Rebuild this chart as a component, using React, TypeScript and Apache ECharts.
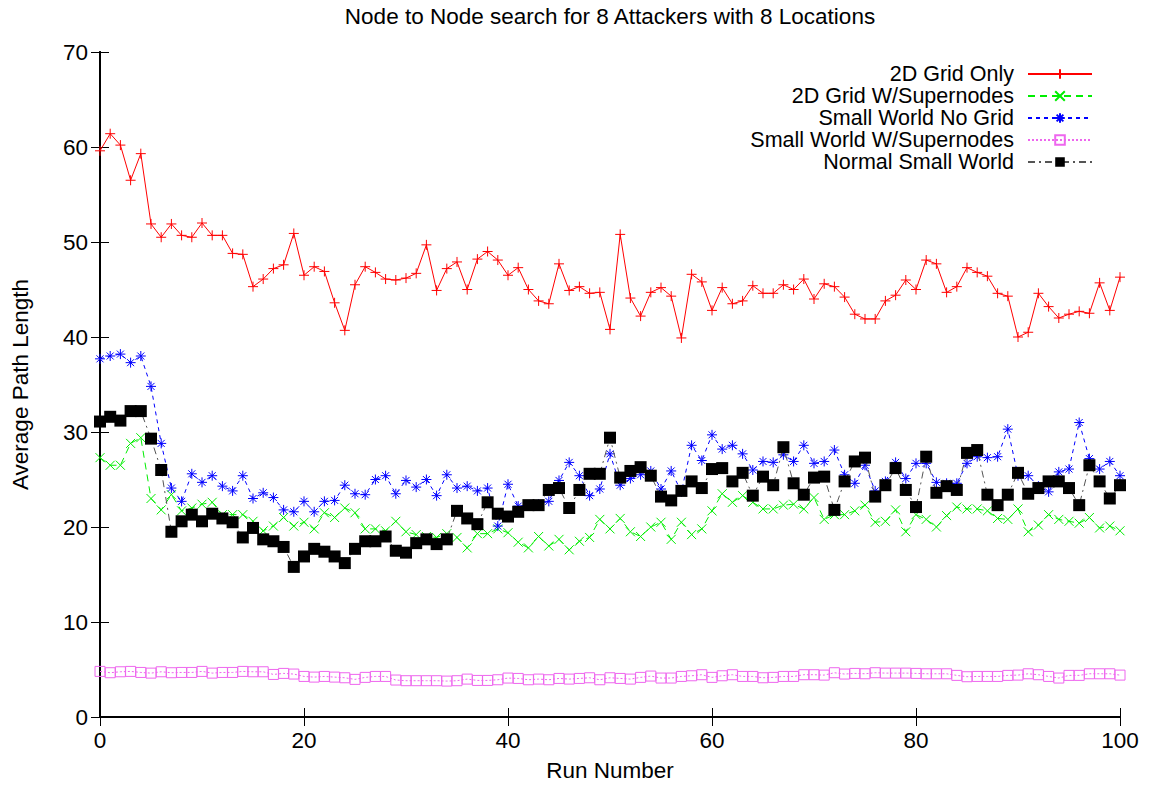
import React, { useEffect, useRef } from "react";
import * as echarts from "echarts";

// Average path length per run, one array per network configuration (runs 0..100)
const gridOnly = [
  59.6, 61.4, 60.2, 56.5, 59.3, 51.9, 50.5, 51.9, 50.7, 50.5, 52.0, 50.7, 50.7, 48.8, 48.7, 45.3, 46.1, 47.2, 47.6, 50.9,
  46.5, 47.4, 46.9, 43.6, 40.7, 45.5, 47.4, 46.8, 46.1, 46.0, 46.2, 46.7, 49.7, 44.9, 47.2, 47.9, 45.0, 48.2, 49.0, 48.1,
  46.5, 47.3, 45.0, 43.8, 43.5, 47.7, 44.9, 45.3, 44.6, 44.7, 40.8, 50.8, 44.1, 42.2, 44.7, 45.2, 44.3, 39.9, 46.6, 45.8,
  42.8, 45.2, 43.5, 43.8, 45.4, 44.6, 44.6, 45.5, 45.0, 46.1, 44.0, 45.6, 45.3, 44.2, 42.4, 41.9, 41.9, 43.8, 44.4, 46.0,
  45.0, 48.1, 47.7, 44.7, 45.3, 47.3, 46.8, 46.4, 44.6, 44.3, 40.0, 40.5, 44.6, 43.2, 42.0, 42.4, 42.7, 42.5, 45.7, 42.8,
  46.3,
];

const gridSupernodes = [
  27.3, 26.5, 26.5, 28.8, 29.4, 23.0, 21.8, 23.4, 21.7, 22.0, 22.4, 22.6, 21.3, 21.3, 21.3, 20.6, 19.6, 20.1, 21.0, 20.1,
  20.5, 19.8, 21.5, 21.0, 22.0, 21.5, 19.8, 19.8, 19.6, 20.6, 19.5, 19.2, 19.0, 18.9, 19.3, 18.9, 17.8, 19.3, 19.3, 19.8,
  19.4, 18.4, 17.8, 19.0, 18.0, 18.7, 17.6, 18.5, 18.9, 20.8, 19.8, 20.9, 19.5, 19.0, 20.0, 20.5, 18.7, 20.5, 19.2, 19.8,
  21.7, 23.5, 22.6, 23.3, 22.6, 21.9, 21.9, 22.3, 22.4, 21.9, 23.1, 20.8, 21.3, 21.3, 21.7, 22.3, 20.5, 20.6, 21.8, 19.5,
  21.3, 20.8, 20.0, 21.2, 22.1, 21.9, 21.9, 21.7, 20.9, 20.8, 21.9, 19.5, 20.2, 21.3, 20.8, 20.6, 20.4, 21.0, 19.9, 20.1,
  19.6,
];

const smallWorldNoGrid = [
  37.7, 38.0, 38.2, 37.3, 38.0, 34.8, 28.8, 24.1, 22.7, 25.6, 24.7, 25.4, 24.3, 23.8, 25.4, 23.0, 23.6, 23.1, 21.8, 21.6,
  22.7, 21.6, 22.7, 22.8, 24.4, 23.5, 23.4, 25.0, 25.4, 23.5, 24.9, 24.2, 25.0, 23.3, 25.5, 24.1, 24.3, 23.8, 24.1, 20.1,
  24.5, 22.2, 22.3, 22.4, 22.7, 24.9, 26.8, 25.4, 23.3, 24.0, 27.7, 24.4, 25.1, 25.5, 25.9, 24.0, 25.9, 23.7, 28.6, 27.0,
  29.7, 28.2, 28.6, 27.7, 26.0, 26.9, 26.8, 27.6, 26.9, 28.6, 26.7, 26.9, 28.1, 25.5, 24.6, 26.5, 23.8, 24.8, 26.8, 25.1,
  26.7, 26.7, 24.7, 24.6, 24.6, 26.7, 27.4, 27.3, 27.4, 30.3, 25.4, 25.4, 24.3, 23.7, 25.8, 26.1, 31.0, 27.2, 26.1, 26.9,
  25.4,
];

const smallWorldSupernodes = [
  4.8, 4.66, 4.76, 4.8, 4.69, 4.62, 4.76, 4.66, 4.69, 4.69, 4.8, 4.62, 4.69, 4.69, 4.8, 4.76, 4.76, 4.48, 4.59, 4.52,
  4.27, 4.2, 4.27, 4.2, 4.13, 3.96, 4.17, 4.27, 4.27, 3.89, 3.82, 3.82, 3.82, 3.82, 3.78, 3.82, 3.99, 3.85, 3.85, 3.92,
  4.1, 4.06, 3.92, 3.99, 3.92, 4.06, 3.99, 4.06, 4.13, 3.92, 4.13, 4.06, 3.99, 4.17, 4.31, 4.1, 4.1, 4.27, 4.34, 4.45,
  4.17, 4.34, 4.45, 4.27, 4.27, 4.13, 4.17, 4.27, 4.27, 4.45, 4.45, 4.41, 4.66, 4.52, 4.59, 4.55, 4.66, 4.62, 4.62, 4.62,
  4.59, 4.55, 4.55, 4.55, 4.38, 4.24, 4.27, 4.27, 4.27, 4.38, 4.41, 4.55, 4.45, 4.27, 4.1, 4.38, 4.38, 4.55, 4.55, 4.55,
  4.41,
];

const normalSmallWorld = [
  31.1, 31.6, 31.2, 32.2, 32.2, 29.3, 26.0, 19.5, 20.6, 21.3, 20.6, 21.4, 20.9, 20.5, 18.9, 19.9, 18.7, 18.5, 17.9, 15.8,
  16.9, 17.7, 17.4, 16.9, 16.2, 17.7, 18.5, 18.5, 19.0, 17.5, 17.3, 18.3, 18.7, 18.2, 18.7, 21.7, 20.9, 20.3, 22.6, 21.4,
  21.1, 21.6, 22.3, 22.3, 23.9, 24.1, 22.0, 23.9, 25.6, 25.6, 29.4, 25.2, 25.9, 26.3, 25.4, 23.2, 22.8, 23.8, 24.8, 24.1,
  26.1, 26.2, 24.8, 25.7, 23.3, 25.3, 24.4, 28.4, 24.6, 23.4, 25.2, 25.3, 21.8, 24.8, 26.9, 27.3, 23.2, 24.4, 26.2, 23.9,
  22.1, 27.4, 23.6, 24.3, 23.9, 27.8, 28.1, 23.4, 22.3, 23.4, 25.7, 23.5, 24.1, 24.8, 24.8, 24.1, 22.3, 26.5, 24.8, 23.0,
  24.4,
];

const seriesNames = [
  "2D Grid Only",
  "2D Grid W/Supernodes",
  "Small World No Grid",
  "Small World W/Supernodes",
  "Normal Small World",
];

const yTicks = { min: 0, max: 70, interval: 10 };
const xTicks = { min: 0, max: 100, interval: 20 };

const FONT = "'Liberation Sans', Arial, sans-serif";
const FONT_SIZE = 22.5;
const KEY_FONT_SIZE = 21.5;

// Marker outlines in the gnuplot style
const PLUS = "path://M0,5H10M5,0V10";
const CROSS = "path://M0,0L10,10M10,0L0,10";
const STAR = "path://M0,5H10M5,0V10M1.5,1.5L8.5,8.5M8.5,1.5L1.5,8.5";
const BOX = "path://M0,0H10V10H0Z";

const toPoints = (values: number[]) => values.map((v, i) => [i, v]);

function buildOption() {
  const styles = [
    { data: gridOnly, color: "#ff0000", line: "solid" as any, symbol: PLUS, size: 10, fill: "rgba(0,0,0,0)", lineColor: "#ff0000" },
    { data: gridSupernodes, color: "#00ee00", line: [7, 5], symbol: CROSS, size: 9, fill: "rgba(0,0,0,0)", lineColor: "#00ee00" },
    { data: smallWorldNoGrid, color: "#0000ff", line: [4, 4], symbol: STAR, size: 10, fill: "rgba(0,0,0,0)", lineColor: "#0000ff" },
    { data: smallWorldSupernodes, color: "#ee66ee", line: [2, 2], symbol: BOX, size: 10, fill: "rgba(0,0,0,0)", lineColor: "#ee66ee" },
    { data: normalSmallWorld, color: "#000000", line: [7, 4, 2, 4], symbol: "rect", size: 12, fill: "#000000", lineColor: "#555555" },
  ];

  const series = styles.map((s, k) => ({
    name: seriesNames[k],
    type: "line",
    data: toPoints(s.data),
    symbol: s.symbol,
    symbolSize: s.size,
    showSymbol: true,
    showAllSymbol: true,
    xAxisIndex: 0,
    yAxisIndex: 0,
    lineStyle: { color: s.lineColor, width: 1, type: s.line },
    itemStyle: { color: s.fill, borderColor: s.color, borderWidth: k === 4 ? 0 : 1 },
    emphasis: { disabled: true },
    z: 2 + k,
  }));

  // One legend per entry so that every key sample lines up at the right edge
  const rowTops = [63, 85, 107, 129, 151];
  const legend = seriesNames.map((name, k) => ({
    data: [name],
    right: 58,
    top: rowTops[k],
    orient: "horizontal",
    align: "right",
    padding: 0,
    itemWidth: 64,
    itemHeight: 12,
    selectedMode: false,
    textStyle: {
      fontFamily: FONT,
      fontSize: KEY_FONT_SIZE,
      lineHeight: 20,
      color: "#000",
      padding: [0, 9, 0, 0],
    },
  }));

  const tick = { show: true, inside: true, length: 9, lineStyle: { color: "#000", width: 1 } };
  const line = { show: true, lineStyle: { color: "#000", width: 2 } };
  const label = { fontFamily: FONT, fontSize: FONT_SIZE, color: "#000", margin: 12 };

  return {
    animation: false,
    backgroundColor: "#fff",
    title: {
      text: "Node to Node search for 8 Attackers with 8 Locations",
      left: 610,
      textAlign: "center",
      top: 5,
      padding: 0,
      textStyle: { fontFamily: FONT, fontSize: FONT_SIZE, fontWeight: "normal", color: "#000" },
    },
    legend,
    grid: { left: 100, top: 52, right: 31, bottom: 69, containLabel: false },
    xAxis: [
      {
        type: "value",
        ...xTicks,
        name: "Run Number",
        nameLocation: "middle",
        nameGap: 42,
        nameTextStyle: { fontFamily: FONT, fontSize: FONT_SIZE, color: "#000" },
        axisLine: line,
        axisTick: tick,
        axisLabel: label,
        splitLine: { show: false },
      },
      {
        type: "value",
        position: "top",
        ...xTicks,
        axisLine: line,
        axisTick: tick,
        axisLabel: { show: false },
        splitLine: { show: false },
      },
    ],
    yAxis: [
      {
        type: "value",
        ...yTicks,
        name: "Average Path Length",
        nameLocation: "middle",
        nameGap: 68,
        nameRotate: 90,
        nameTextStyle: { fontFamily: FONT, fontSize: FONT_SIZE, color: "#000" },
        axisLine: line,
        axisTick: tick,
        axisLabel: label,
        splitLine: { show: false },
      },
      {
        type: "value",
        position: "right",
        ...yTicks,
        axisLine: line,
        axisTick: tick,
        axisLabel: { show: false },
        splitLine: { show: false },
      },
    ],
    series,
  };
}

export default function App() {
  const ref = useRef<HTMLDivElement>(null);
  useEffect(() => {
    if (!ref.current) return;
    const chart = echarts.init(ref.current, undefined, { renderer: "svg" });
    chart.setOption(buildOption() as any);
    return () => chart.dispose();
  }, []);
  return (
    <div
      ref={ref}
      style={{ position: "fixed", left: 0, top: 0, width: 1151, height: 787, background: "#fff" }}
    />
  );
}
